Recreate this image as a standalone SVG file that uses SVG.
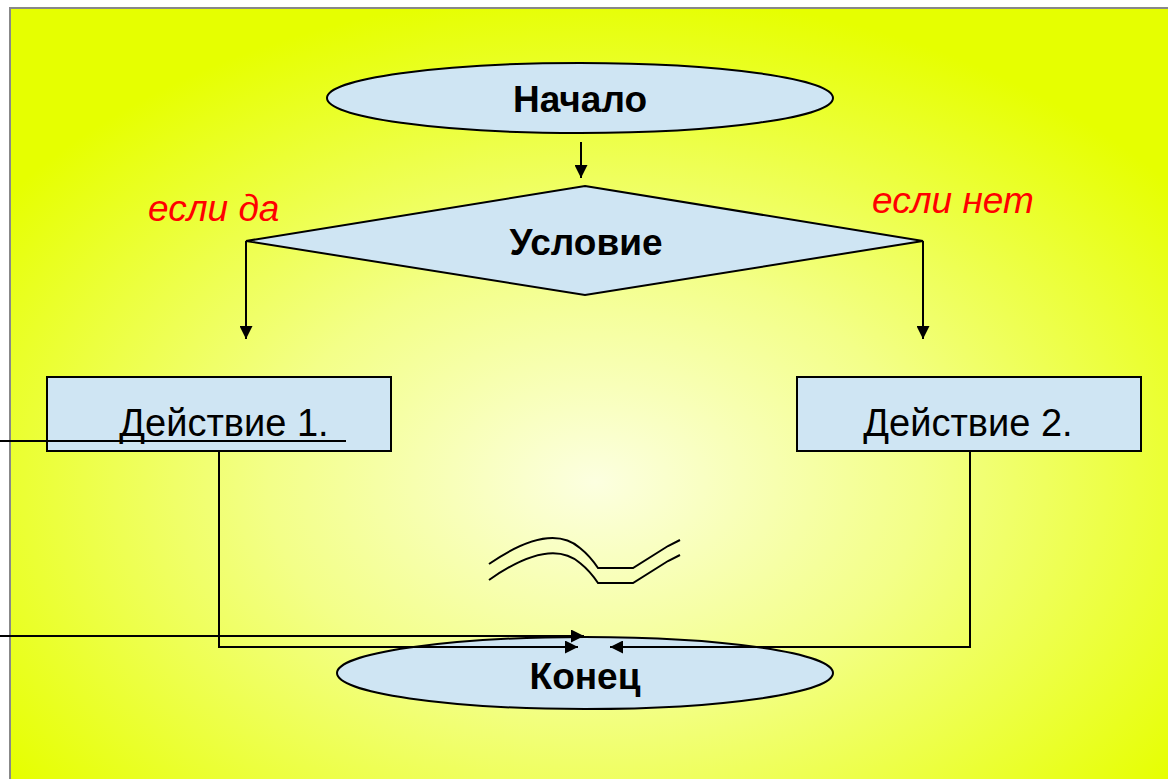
<svg xmlns="http://www.w3.org/2000/svg" width="1168" height="779" viewBox="0 0 1168 779">
<style>
.node{fill:#cfe5f3;stroke:#000;stroke-width:2}
.t{font-family:"Liberation Sans",Arial,sans-serif;fill:#000;text-anchor:middle}
.b{font-weight:bold;font-size:37px}
.n{font-size:38px}
.lbl{font-family:"Liberation Sans",Arial,sans-serif;font-style:italic;font-size:37px;fill:#ff0000}
.c{fill:none;stroke:#000;stroke-width:2}
</style>
<defs>
<radialGradient id="bg" cx="0.5" cy="0.6" r="0.62">
<stop offset="0" stop-color="#fcffe0"/>
<stop offset="0.45" stop-color="#f3ff88"/>
<stop offset="1" stop-color="#e6ff00"/>
</radialGradient>
<marker id="ah" viewBox="0 0 10 10" refX="10" refY="5" markerWidth="6.5" markerHeight="6.5" orient="auto" markerUnits="strokeWidth">
<path d="M0,0 L10,5 L0,10 z" fill="#000"/>
</marker>
</defs>
<rect x="0" y="0" width="1168" height="779" fill="#ffffff"/>
<rect x="10" y="8" width="1170" height="790" fill="url(#bg)" stroke="#888" stroke-width="2"/>

<g id="start">
<ellipse class="node" cx="580" cy="98" rx="253" ry="35"/>
<text class="t b" x="580" y="112">Начало</text>
</g>
<g id="condition">
<polygon class="node" points="585,186 923,241 585,295 246,241"/>
<text class="t b" x="586" y="255">Условие</text>
</g>
<g id="action1">
<rect class="node" x="47" y="377" width="344" height="74"/>
<text class="t n" x="224" y="436">Действие 1.</text>
</g>
<g id="action2">
<rect class="node" x="797" y="377" width="344" height="74"/>
<text class="t n" x="968" y="436">Действие 2.</text>
</g>
<g id="end">
<ellipse class="node" cx="585" cy="673" rx="248" ry="36"/>
<text class="t b" x="585" y="689">Конец</text>
</g>
<g id="labels">
<text class="lbl" x="148" y="221">если да</text>
<text class="lbl" x="872" y="213">если нет</text>
</g>

<g id="connectors">
<line class="c" x1="581" y1="142" x2="581" y2="178" marker-end="url(#ah)"/>
<line class="c" x1="246" y1="241" x2="246" y2="339" marker-end="url(#ah)"/>
<line class="c" x1="923" y1="241" x2="923" y2="339" marker-end="url(#ah)"/>
<line class="c" x1="0" y1="441" x2="346" y2="441"/>
<polyline class="c" points="219,451 219,647 578,647" marker-end="url(#ah)"/>
<line class="c" x1="0" y1="636" x2="584" y2="636" marker-end="url(#ah)"/>
<polyline class="c" points="970,451 970,647 610,647" marker-end="url(#ah)"/>
</g>

<g id="squiggle" fill="none" stroke="#000" stroke-width="2">
<path d="M489,564 Q550,522 580,548 Q590,556 598,568 L633,568 L668,546 L680,540"/>
<path d="M489,580 Q550,537 580,563 Q590,571 598,583 L633,583 L668,561 L680,555"/>
</g>
</svg>
